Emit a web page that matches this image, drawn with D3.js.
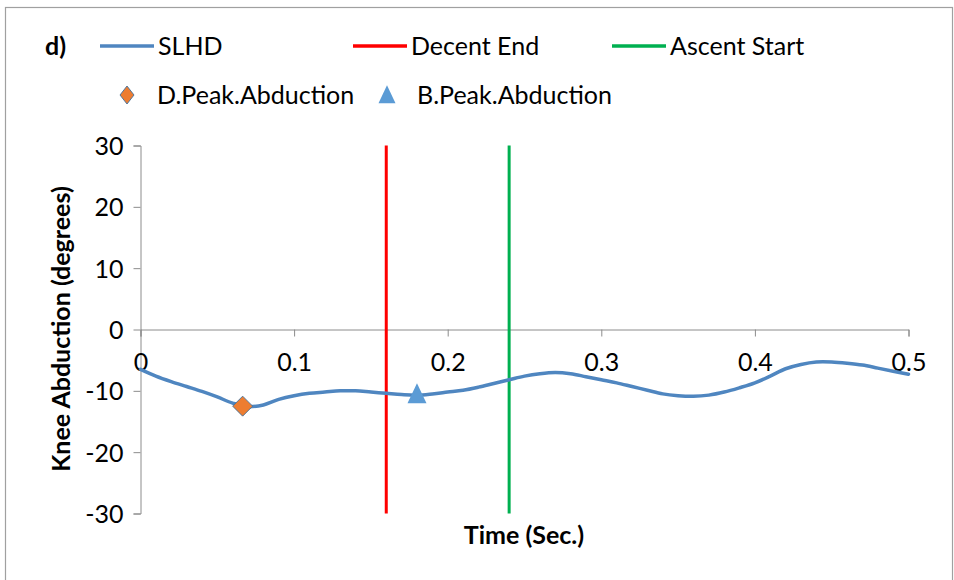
<!DOCTYPE html>
<html>
<head>
<meta charset="utf-8">
<script src="https://cdn.jsdelivr.net/npm/d3@7/dist/d3.min.js"></script>
<style>
  html, body { margin: 0; padding: 0; background: #fff; }
  svg { display: block; }
  text { font-family: Lato, "Open Sans", sans-serif; fill: #000; }
</style>
</head>
<body>
<svg id="chart" width="954" height="580"></svg>
<script>
// ---- data ----
const time = [0,0.01,0.02,0.03,0.04,0.05,0.06,0.07,0.08,0.09,0.10,0.11,0.12,0.13,0.14,0.15,0.16,0.17,0.18,0.19,0.20,0.21,0.22,0.23,0.24,0.25,0.26,0.27,0.28,0.29,0.30,0.31,0.32,0.33,0.34,0.35,0.36,0.37,0.38,0.39,0.40,0.41,0.42,0.43,0.44,0.45,0.46,0.47,0.48,0.49,0.50];
const slhd = [-6.5,-7.6,-8.5,-9.3,-10.1,-11.0,-12.0,-12.6,-12.3,-11.4,-10.8,-10.4,-10.2,-10.0,-10.0,-10.2,-10.4,-10.6,-10.7,-10.5,-10.2,-9.9,-9.4,-8.8,-8.2,-7.6,-7.2,-7.0,-7.2,-7.7,-8.2,-8.7,-9.3,-9.9,-10.5,-10.8,-10.9,-10.7,-10.2,-9.5,-8.7,-7.6,-6.4,-5.7,-5.3,-5.3,-5.5,-5.8,-6.3,-6.8,-7.3];
const decentEnd = [0.16];
const ascentStart = [0.24];
const dPeak = [{t: 0.0665, v: -12.5}];
const bPeak = [{t: 0.18, v: -10.7}];
const xTicks = [0, 0.1, 0.2, 0.3, 0.4, 0.5];
const yTicks = [-30, -20, -10, 0, 10, 20, 30];
const legendRow1 = ["SLHD", "Decent End", "Ascent Start"];
const legendRow2 = ["D.Peak.Abduction", "B.Peak.Abduction"];

// ---- layout ----
const svg = d3.select("#chart");
const x = d3.scaleLinear().domain([0, 0.5]).range([140.5, 908.5]);
const y = d3.scaleLinear().domain([-30, 30]).range([513.5, 145.5]);
const axisColor = "#8c8c8c";
const blue = "#4f86c0";
const FS = 25;

// marker shapes
function diamondPath(w, h) { return `M0,${-h/2}L${w/2},0L0,${h/2}L${-w/2},0Z`; }
function trianglePath(w, h) { return `M0,${-h*0.6}L${w/2},${h*0.4}L${-w/2},${h*0.4}Z`; }

// border
svg.append("rect").attr("x", 5.5).attr("y", 7.5).attr("width", 947).attr("height", 600)
  .attr("fill", "none").attr("stroke", "#a0a0a0").attr("stroke-width", 1.2);

// y axis
const yAxis = svg.append("g").attr("transform", `translate(${x(0)},0)`)
  .call(d3.axisLeft(y).tickValues(yTicks).tickSize(7).tickPadding(10).tickFormat(d => String(d)));
yAxis.select(".domain").attr("stroke", axisColor);
yAxis.selectAll(".tick line").attr("stroke", axisColor);
yAxis.selectAll(".tick text").attr("font-size", FS).attr("font-family", "Lato, sans-serif").attr("dy", "0.36em");

// x axis at y=0
const xAxis = svg.append("g").attr("transform", `translate(0,${y(0)})`)
  .call(d3.axisBottom(x).tickValues(xTicks).tickSize(7).tickSizeOuter(7).tickPadding(17).tickFormat(d => d === 0 ? "0" : d3.format(".1f")(d)));
xAxis.select(".domain").attr("stroke", axisColor);
xAxis.selectAll(".tick line").attr("stroke", axisColor);
xAxis.selectAll(".tick text").attr("font-size", FS).attr("font-family", "Lato, sans-serif");

// vertical lines
svg.selectAll("line.de").data(decentEnd).enter().append("line")
  .attr("x1", d => x(d)).attr("x2", d => x(d)).attr("y1", y(30)).attr("y2", y(-30))
  .attr("stroke", "#ff0000").attr("stroke-width", 3);
svg.selectAll("line.as").data(ascentStart).enter().append("line")
  .attr("x1", d => x(d)).attr("x2", d => x(d)).attr("y1", y(30)).attr("y2", y(-30))
  .attr("stroke", "#00b050").attr("stroke-width", 3);

// SLHD curve
const pts = time.map((t, i) => [t, slhd[i]]);
svg.append("path").datum(pts)
  .attr("d", d3.line().x(d => x(d[0])).y(d => y(d[1])).curve(d3.curveCatmullRom.alpha(0.5)))
  .attr("fill", "none").attr("stroke", blue).attr("stroke-width", 3.5).attr("stroke-linecap", "round");

// markers
svg.selectAll("path.dp").data(dPeak).enter().append("path")
  .attr("d", diamondPath(20, 20)).attr("transform", d => `translate(${x(d.t)},${y(d.v)})`)
  .attr("fill", "#ed7d31").attr("stroke", "#41719c").attr("stroke-width", 0.9);
svg.selectAll("path.bp").data(bPeak).enter().append("path")
  .attr("d", trianglePath(19, 20)).attr("transform", d => `translate(${x(d.t)},${y(d.v)})`)
  .attr("fill", "#5b9bd5");

// axis titles
svg.append("text").attr("x", 524).attr("y", 544).attr("text-anchor", "middle")
  .attr("font-size", FS).attr("font-weight", "bold").text("Time (Sec.)");
svg.append("text").attr("transform", "translate(70,329) rotate(-90)").attr("text-anchor", "middle")
  .attr("font-size", FS).attr("font-weight", "bold").text("Knee Abduction (degrees)");

// panel label
svg.append("text").attr("x", 45).attr("y", 55).attr("font-size", FS).attr("font-weight", "bold").text("d)");

// legend row 1
const row1Colors = [blue, "#ff0000", "#00b050"];
const row1X = [100, 353, 612];
legendRow1.forEach((name, i) => {
  svg.append("line").attr("x1", row1X[i]).attr("x2", row1X[i] + 54).attr("y1", 46).attr("y2", 46)
    .attr("stroke", row1Colors[i]).attr("stroke-width", 3.5);
  svg.append("text").attr("x", row1X[i] + 58).attr("y", 55).attr("font-size", FS).text(name);
});

// legend row 2
svg.append("path").attr("d", diamondPath(14, 18))
  .attr("transform", "translate(127,95)")
  .attr("fill", "#ed7d31").attr("stroke", "#41719c").attr("stroke-width", 0.9);
svg.append("text").attr("x", 157).attr("y", 104).attr("font-size", FS).text(legendRow2[0]);
svg.append("path").attr("d", trianglePath(17, 18))
  .attr("transform", "translate(387,96)").attr("fill", "#5b9bd5");
svg.append("text").attr("x", 417).attr("y", 104).attr("font-size", FS).text(legendRow2[1]);
</script>
</body>
</html>
